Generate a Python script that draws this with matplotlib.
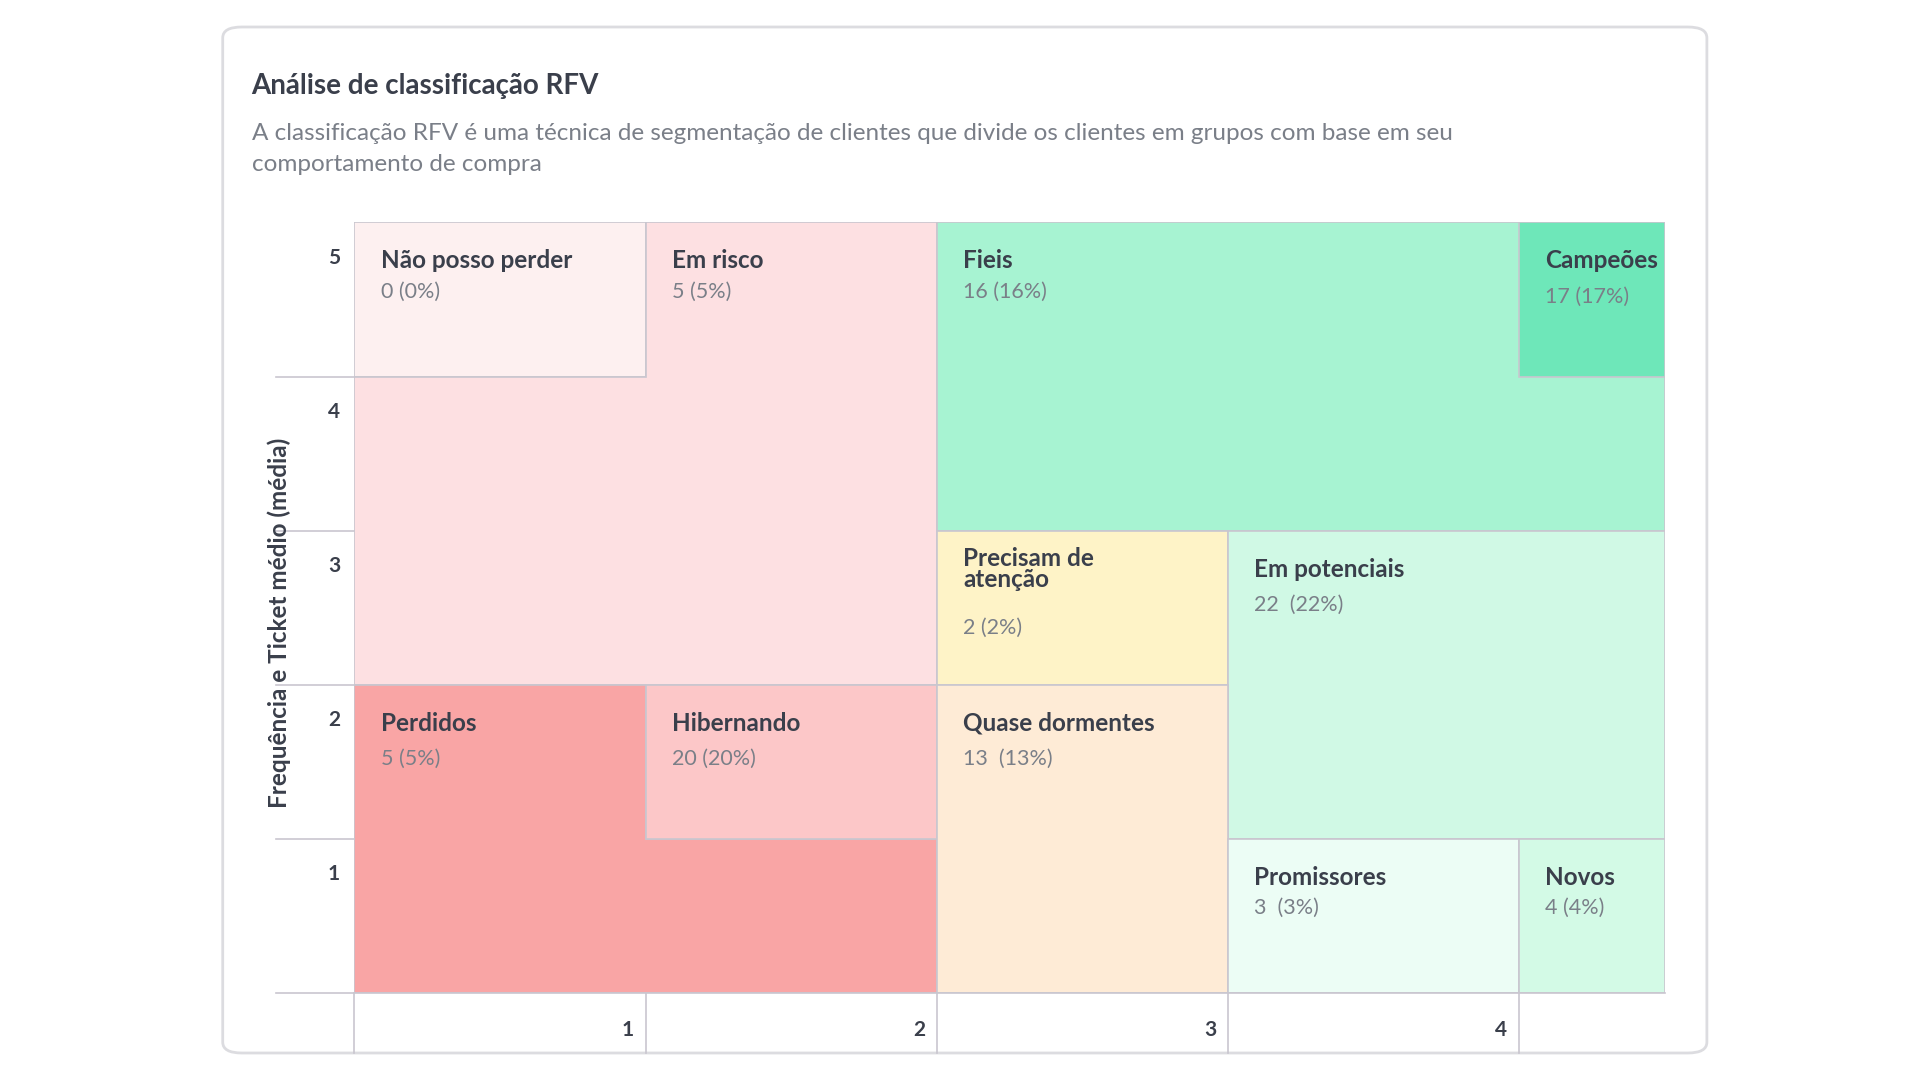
import matplotlib
matplotlib.use("Agg")
import matplotlib.pyplot as plt
from matplotlib.patches import Polygon, FancyBboxPatch

plt.rcParams['font.family'] = ['Lato', 'DejaVu Sans']

title = "Análise de classificação RFV"
subtitle = ("A classificação RFV é uma técnica de segmentação de clientes que divide os clientes em grupos com base em seu\n"
            "comportamento de compra")
ylabel = "Frequência e Ticket médio (média)"
x_ticks = [1, 2, 3, 4]
y_ticks = [1, 2, 3, 4, 5]

names = ["Não posso perder", "Em risco", "Fieis", "Campeões", "Precisam de\natenção",
         "Em potenciais", "Perdidos", "Hibernando", "Quase dormentes", "Promissores", "Novos"]
counts = [0, 5, 16, 17, 2, 22, 5, 20, 13, 3, 4]
pcts = [0, 5, 16, 17, 2, 22, 5, 20, 13, 3, 4]
count_fmt = ["{} ({}%)", "{} ({}%)", "{} ({}%)", "{} ({}%)", "{} ({}%)", "{}  ({}%)",
             "{} ({}%)", "{} ({}%)", "{}  ({}%)", "{}  ({}%)", "{} ({}%)"]
colors = ["#fdf0f0", "#fde0e2", "#a7f3d2", "#6ee7b9", "#fef3c7", "#d0f9e5",
          "#f9a5a5", "#fcc7c8", "#feebd6", "#ecfdf5", "#d3fae6"]
# score regions (recency x, frequency y) as outlines
regions = [
    [(0, 4), (1, 4), (1, 5), (0, 5)],
    [(0, 2), (2, 2), (2, 5), (1, 5), (1, 4), (0, 4)],
    [(2, 3), (4.5, 3), (4.5, 5), (2, 5)],
    [(4, 4), (4.5, 4), (4.5, 5), (4, 5)],
    [(2, 2), (3, 2), (3, 3), (2, 3)],
    [(3, 1), (4.5, 1), (4.5, 3), (3, 3)],
    [(0, 0), (2, 0), (2, 1), (1, 1), (1, 2), (0, 2)],
    [(1, 1), (2, 1), (2, 2), (1, 2)],
    [(2, 0), (3, 0), (3, 2), (2, 2)],
    [(3, 0), (4, 0), (4, 1), (3, 1)],
    [(4, 0), (4.5, 0), (4.5, 1), (4, 1)],
]
label_anchor = [(0, 5), (1, 5), (2, 5), (4, 5), (2, 3), (3, 3), (0, 2), (1, 2), (2, 2), (3, 1), (4, 1)]
count_dy = [0.2, 0.2, 0.2, 0.23, 0.38, 0.23, 0.23, 0.23, 0.23, 0.2, 0.2]

fig = plt.figure(figsize=(19.2, 10.8), dpi=100)
fig.patch.set_facecolor("white")
card = FancyBboxPatch((0.116, 0.025), 0.773, 0.95, boxstyle="round,pad=0,rounding_size=0.01",
                      transform=fig.transFigure, facecolor="white", edgecolor="#dcdce0", lw=2, zorder=-5)
fig.patches.append(card)
fig.text(0.131, 0.92, title, fontsize=20, fontweight="bold", color="#3a3f4b", va="center")
fig.text(0.131, 0.862, subtitle, fontsize=17.5, color="#7a7f88", va="center", linespacing=1.55)

ax = fig.add_axes([0.1846, 0.0807, 0.6824, 0.7133])
ax.set_xlim(0, 4.5)
ax.set_ylim(0, 5)
ax.axis("off")

for i, reg in enumerate(regions):
    ax.add_patch(Polygon(reg, closed=True, facecolor=colors[i], edgecolor="#c9c6cf", lw=1.2))
    x0, ytop = label_anchor[i]
    ax.text(x0 + 0.09, ytop - 0.25, names[i], fontsize=17.5, fontweight="bold", color="#3a3f4b",
            va="center", linespacing=0.9)
    ax.text(x0 + 0.09, ytop - 0.25 - count_dy[i], count_fmt[i].format(counts[i], pcts[i]),
            fontsize=15.5, color="#7a7f88", va="center")

for x in [0, 1, 2, 3, 4]:
    ax.plot([x, x], [0, -0.39], color="#c9c6cf", lw=1.2, clip_on=False)
for v in x_ticks:
    ax.text(v - 0.04, -0.24, str(v), ha="right", va="center", fontsize=15, fontweight="bold", color="#3a3f4b")
ax.plot([-0.27, 4.5], [0, 0], color="#c9c6cf", lw=1.2, clip_on=False)
for y in [1, 2, 3, 4]:
    ax.plot([-0.27, 0], [y, y], color="#c9c6cf", lw=1.2, clip_on=False)
for v in y_ticks:
    ax.text(-0.07, v - 0.23, str(v), ha="center", va="center", fontsize=15, fontweight="bold", color="#3a3f4b")
ax.text(-0.26, 2.4, ylabel, rotation=90, ha="center", va="center", fontsize=17.5, fontweight="bold", color="#3a3f4b")

fig.savefig("out.png", dpi=100)
